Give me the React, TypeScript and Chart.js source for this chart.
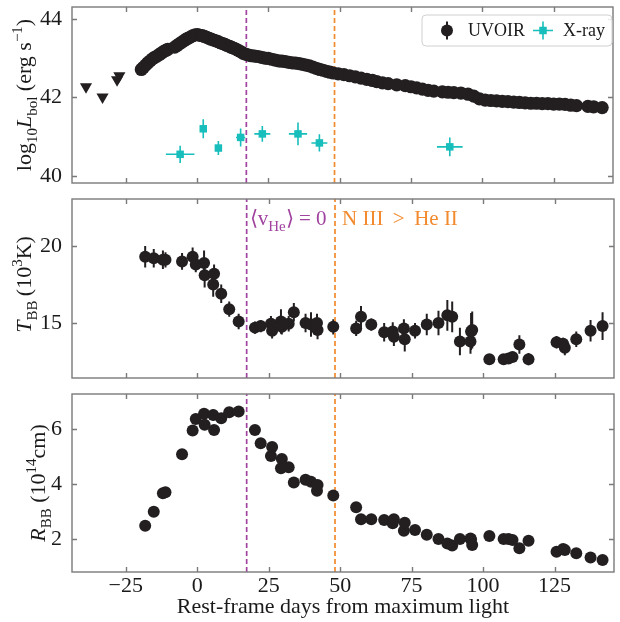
import React, { useEffect, useRef } from 'react';
import { Chart, registerables } from 'chart.js';

Chart.register(...registerables);

// ---------------- data ----------------
const xTicks = [-25, 0, 25, 50, 75, 100, 125];
const xMin = -43.8;
const xMax = 145.8;

const lumTicks = [40, 42, 44];
const tempTicks = [15, 20];
const radiusTicks = [2, 4, 6];

const uvoirDays = [
  -19.5, -18.8, -18.0, -17.2, -16.4, -15.6, -14.8, -14.0, -13.2, -12.4,
  -11.6, -10.8, -10.2, -7.8, -7.0, -6.2, -5.4, -4.6, -3.8, -3.0,
  -2.2, -1.4, -0.6, 0.2, 1.0, 1.8, 2.6, 3.4, 4.2, 5.0,
  5.8, 6.6, 7.4, 8.2, 9.0, 9.8, 10.6, 11.4, 12.2, 13.0,
  13.8, 14.6, 15.4, 16.2, 17.0, 17.8, 19.0, 20.2, 21.4, 22.6,
  23.8, 25.0, 26.2, 27.4, 28.6, 29.8, 31.0, 32.2, 33.4, 34.6,
  35.8, 37.0, 38.2, 39.4, 40.6, 41.8, 43.0, 44.2, 45.4, 46.6,
  47.8, 49.5, 51.5, 53.5, 55.5, 57.5, 59.5, 61.5, 63.0, 65.0,
  67.0, 70.0, 73.0, 75.0, 77.0, 79.0, 81.0, 83.0, 86.0, 88.0,
  90.0, 92.5, 95.0, 97.0, 99.0, 101.0, 103.0, 105.0, 107.0, 109.0,
  111.0, 113.0, 115.0, 117.0, 119.0, 121.0, 123.0, 125.0, 127.0, 129.0,
  131.0, 133.0, 137.0, 139.0, 142.0,
];
const uvoirLogL = [
  42.71, 42.76, 42.82, 42.88, 42.93, 42.98, 43.02, 43.05, 43.09, 43.13,
  43.17, 43.2, 43.22, 43.28, 43.32, 43.36, 43.4, 43.44, 43.48, 43.51,
  43.54, 43.57, 43.59, 43.6, 43.58, 43.57, 43.55, 43.53, 43.5, 43.48,
  43.46, 43.44, 43.42, 43.39, 43.37, 43.35, 43.32, 43.3, 43.27, 43.25,
  43.22, 43.19, 43.16, 43.12, 43.1, 43.08, 43.06, 43.05, 43.04, 43.02,
  43.0, 42.99, 42.97, 42.95, 42.93, 42.92, 42.91, 42.89, 42.88, 42.87,
  42.86, 42.84, 42.82, 42.8, 42.77, 42.74, 42.71, 42.69, 42.66, 42.64,
  42.62, 42.6, 42.58, 42.55, 42.52, 42.49, 42.46, 42.43, 42.4, 42.37,
  42.35, 42.32, 42.3, 42.27, 42.24, 42.21, 42.18, 42.16, 42.14, 42.13,
  42.12, 42.11, 42.08, 42.03, 41.96, 41.93, 41.92, 41.91, 41.9, 41.89,
  41.88, 41.87, 41.86, 41.85, 41.85, 41.84, 41.84, 41.83, 41.83, 41.82,
  41.8, 41.79, 41.77, 41.76, 41.74,
];

const limitDays = [-38.9, -33.1, -28.0, -27.2];
const limitLogL = [42.27, 42.01, 42.45, 42.55];

const xrayDays = [-5.9, 2.2, 7.5, 15.3, 22.9, 35.4, 42.9, 88.6];
const xrayLogL = [40.55, 41.2, 40.71, 40.98, 41.07, 41.07, 40.84, 40.74];
const xrayDayErr = [5.0, 0.6, 0.6, 1.6, 2.8, 3.2, 2.8, 4.5];
const xrayLogLErr = [0.22, 0.24, 0.18, 0.23, 0.2, 0.29, 0.22, 0.24];

const fitDays = [
  -18.2, -15.2, -12.0, -11.1, -5.3, -1.6, -0.5, 2.4, 2.6, 5.6,
  5.9, 8.4, 11.2, 14.5, 20.2, 22.2, 25.8, 26.2, 29.3, 29.6,
  32.0, 33.8, 37.9, 39.8, 41.9, 42.1, 47.6, 55.6, 57.3, 60.9,
  65.4, 68.4, 68.8, 72.3, 72.6, 76.2, 80.3, 84.4, 87.5, 89.2,
  91.9, 95.6, 95.8, 96.2, 102.2, 107.2, 108.9, 110.3, 112.7, 115.9,
  125.7, 128.0, 128.6, 132.6, 137.6, 141.8,
];
const tempValues = [
  19.3, 19.2, 19.1, 19.1, 19.0, 19.3, 18.8, 18.9, 18.1, 17.5,
  18.2, 16.9, 15.9, 15.1, 14.7, 14.8, 14.95, 14.5, 15.1, 14.75,
  14.95, 15.7, 15.0, 14.9, 15.0, 14.55, 14.75, 14.65, 15.4, 14.9,
  14.4, 14.45, 14.1, 14.65, 13.95, 14.5, 14.9, 15.0, 15.5, 15.4,
  13.8, 13.8, 14.45, 14.55, 12.65, 12.65, 12.7, 12.8, 13.6, 12.65,
  13.75, 13.65, 13.4, 13.95, 14.5, 14.8,
];
const tempErr = [
  0.7, 0.6, 0.6, 0.5, 0.55, 0.6, 0.5, 0.8, 0.8, 0.8,
  0.6, 0.6, 0.5, 0.5, 0.4, 0.4, 0.5, 0.5, 0.8, 0.5,
  0.5, 0.6, 0.6, 0.8, 0.6, 0.6, 0.5, 0.5, 0.7, 0.4,
  0.6, 0.6, 0.6, 0.6, 0.8, 0.5, 0.7, 0.8, 1.0, 1.0,
  0.9, 0.8, 1.2, 1.2, 0.3, 0.3, 0.3, 0.3, 0.6, 0.4,
  0.4, 0.4, 0.5, 0.5, 0.7, 0.9,
];
const radiusValues = [
  2.48, 2.99, 3.66, 3.7, 5.08, 5.94, 6.36, 6.55, 6.15, 6.51,
  5.96, 6.39, 6.61, 6.63, 5.96, 5.48, 5.02, 5.34, 4.57, 4.91,
  4.61, 4.05, 4.15, 4.08, 3.75, 3.96, 3.58, 3.15, 2.72, 2.72,
  2.69, 2.57, 2.72, 2.3, 2.59, 2.33, 2.15, 2.0, 1.84, 1.76,
  2.0, 2.02, 1.98, 1.78, 2.11, 2.0, 2.0, 1.96, 1.66, 1.94,
  1.54, 1.64, 1.6, 1.48, 1.33, 1.24,
];
const radiusErr = [
  0.08, 0.1, 0.1, 0.1, 0.12, 0.15, 0.18, 0.2, 0.18, 0.2,
  0.15, 0.18, 0.15, 0.15, 0.12, 0.1, 0.12, 0.12, 0.12, 0.12,
  0.1, 0.1, 0.1, 0.1, 0.08, 0.08, 0.08, 0.06, 0.06, 0.06,
  0.06, 0.06, 0.06, 0.06, 0.06, 0.06, 0.06, 0.06, 0.06, 0.06,
  0.06, 0.06, 0.06, 0.06, 0.06, 0.06, 0.06, 0.06, 0.06, 0.06,
  0.06, 0.06, 0.06, 0.06, 0.06, 0.06,
];

const heVelocityZeroDay = 17.3;
const nIIIOverHeIIDay = 48.2;

// ---------------- style ----------------
const FONT = "'Liberation Serif', 'Times New Roman', serif";
const INK = '#231f20';
const TEXT = '#1a1a1a';
const FRAME = '#7a7a7a';
const XRAY = '#17bebb';
const PURPLE = '#a044a0';
const ORANGE = '#f28a2e';

type Seg = { t: string; italic?: boolean; sub?: boolean; sup?: boolean };

function drawRich(
  ctx: CanvasRenderingContext2D,
  segs: Seg[],
  x: number,
  y: number,
  size: number,
  color: string,
  rotate: boolean,
  align: 'center' | 'left'
) {
  ctx.save();
  ctx.translate(x, y);
  if (rotate) ctx.rotate(-Math.PI / 2);
  const fontFor = (s: Seg) =>
    `${s.italic ? 'italic ' : ''}${s.sub || s.sup ? Math.round(size * 0.7) : size}px ${FONT}`;
  let w = 0;
  for (const s of segs) {
    ctx.font = fontFor(s);
    w += ctx.measureText(s.t).width;
  }
  let cx = align === 'center' ? -w / 2 : 0;
  ctx.fillStyle = color;
  ctx.textBaseline = 'alphabetic';
  ctx.textAlign = 'left';
  const base = size * 0.33;
  for (const s of segs) {
    ctx.font = fontFor(s);
    const dy = s.sub ? size * 0.28 : s.sup ? -size * 0.42 : 0;
    ctx.fillText(s.t, cx, base + dy);
    cx += ctx.measureText(s.t).width;
  }
  ctx.restore();
}

const errorBarPlugin = {
  id: 'errbars',
  beforeDatasetsDraw(chart: any) {
    const { ctx, chartArea: a } = chart;
    const xs = chart.scales.x;
    const ys = chart.scales.y;
    ctx.save();
    ctx.beginPath();
    ctx.rect(a.left, a.top, a.right - a.left, a.bottom - a.top);
    ctx.clip();
    chart.data.datasets.forEach((ds: any) => {
      const e = ds.errorBars;
      if (!e) return;
      ctx.strokeStyle = e.color;
      ctx.lineWidth = e.width;
      ctx.beginPath();
      ds.data.forEach((p: any, j: number) => {
        const px = xs.getPixelForValue(p.x);
        const py = ys.getPixelForValue(p.y);
        if (e.y) {
          ctx.moveTo(px, ys.getPixelForValue(p.y - e.y[j]));
          ctx.lineTo(px, ys.getPixelForValue(p.y + e.y[j]));
        }
        if (e.x) {
          ctx.moveTo(xs.getPixelForValue(p.x - e.x[j]), py);
          ctx.lineTo(xs.getPixelForValue(p.x + e.x[j]), py);
        }
      });
      ctx.stroke();
    });
    ctx.restore();
  },
};

const framePlugin = {
  id: 'frame',
  afterDraw(chart: any, _args: any, opts: any) {
    const { ctx, chartArea: a } = chart;
    const xs = chart.scales.x;
    const ys = chart.scales.y;
    ctx.save();
    ctx.strokeStyle = FRAME;
    ctx.lineWidth = 1.4;
    ctx.strokeRect(a.left, a.top, a.right - a.left, a.bottom - a.top);
    const tl = 5;
    ctx.beginPath();
    for (const v of xTicks) {
      const px = Math.round(xs.getPixelForValue(v)) + 0.5;
      ctx.moveTo(px, a.bottom);
      ctx.lineTo(px, a.bottom - tl);
      ctx.moveTo(px, a.top);
      ctx.lineTo(px, a.top + tl);
    }
    for (const v of opts.yTicks) {
      const py = Math.round(ys.getPixelForValue(v)) + 0.5;
      ctx.moveTo(a.left, py);
      ctx.lineTo(a.left + tl, py);
      ctx.moveTo(a.right, py);
      ctx.lineTo(a.right - tl, py);
    }
    ctx.stroke();
    ctx.restore();
    // y title
    drawRich(ctx, opts.title, opts.titleX, (a.top + a.bottom) / 2 + (opts.titleDy || 0), 22, TEXT, true, 'center');
    // annotations
    if (opts.notes) {
      for (const n of opts.notes) {
        drawRich(ctx, n.segs, xs.getPixelForValue(n.x) + n.dx, a.top + n.dy, n.size, n.color, false, 'left');
      }
    }
    // legend
    if (opts.legend) {
      const L = opts.legend;
      ctx.save();
      const bx = L.x, by = L.y, bw = L.w, bh = L.h, r = 4;
      ctx.beginPath();
      ctx.moveTo(bx + r, by);
      ctx.arcTo(bx + bw, by, bx + bw, by + bh, r);
      ctx.arcTo(bx + bw, by + bh, bx, by + bh, r);
      ctx.arcTo(bx, by + bh, bx, by, r);
      ctx.arcTo(bx, by, bx + bw, by, r);
      ctx.closePath();
      ctx.fillStyle = 'rgba(255,255,255,0.85)';
      ctx.fill();
      ctx.strokeStyle = '#d0d0d0';
      ctx.lineWidth = 1;
      ctx.stroke();
      const cy = by + bh / 2;
      // UVOIR marker
      ctx.strokeStyle = INK;
      ctx.lineWidth = 2;
      ctx.beginPath();
      ctx.moveTo(bx + 25, cy - 9);
      ctx.lineTo(bx + 25, cy + 9);
      ctx.stroke();
      ctx.fillStyle = INK;
      ctx.beginPath();
      ctx.arc(bx + 25, cy, 6, 0, Math.PI * 2);
      ctx.fill();
      ctx.font = `18px ${FONT}`;
      ctx.fillStyle = TEXT;
      ctx.textBaseline = 'middle';
      ctx.textAlign = 'left';
      ctx.fillText('UVOIR', bx + 46, cy + 1);
      // X-ray marker
      const mx = bx + 121;
      ctx.strokeStyle = XRAY;
      ctx.lineWidth = 1.6;
      ctx.beginPath();
      ctx.moveTo(mx - 10, cy);
      ctx.lineTo(mx + 10, cy);
      ctx.moveTo(mx, cy - 9);
      ctx.lineTo(mx, cy + 9);
      ctx.stroke();
      ctx.fillStyle = XRAY;
      ctx.fillRect(mx - 3.75, cy - 3.75, 7.5, 7.5);
      ctx.fillStyle = TEXT;
      ctx.fillText('X-ray', bx + 141, cy + 1);
      ctx.restore();
    }
  },
};

function vline(day: number, color: string, yMin: number, yMax: number) {
  return {
    type: 'line',
    data: [
      { x: day, y: yMin },
      { x: day, y: yMax },
    ],
    showLine: true,
    borderColor: color,
    borderWidth: 1.7,
    borderDash: [5, 3],
    pointRadius: 0,
    order: 10,
  };
}

function pts(xs: number[], ys: number[]) {
  return xs.map((x, i) => ({ x, y: ys[i] }));
}

function baseOptions(
  yMin: number,
  yMax: number,
  yTickVals: number[],
  showX: boolean,
  padding: any,
  frameOpts: any
) {
  return {
    responsive: false,
    animation: false,
    events: [],
    layout: { padding },
    plugins: {
      legend: { display: false },
      tooltip: { enabled: false },
      frame: frameOpts,
    },
    scales: {
      x: {
        type: 'linear',
        min: xMin,
        max: xMax,
        display: showX,
        afterBuildTicks: (s: any) => {
          s.ticks = xTicks.map((v) => ({ value: v }));
        },
        afterFit: (s: any) => {
          if (showX) s.height = 50;
          s.paddingLeft = 0;
          s.paddingRight = 0;
        },
        grid: { display: false, drawTicks: false },
        border: { display: false },
        ticks: {
          padding: 1,
          autoSkip: false,
          maxRotation: 0,
          font: { family: FONT, size: 22 },
          color: TEXT,
          callback: (v: number) => (v < 0 ? '\u2212' + Math.abs(v) : String(v)),
        },
        title: {
          display: showX,
          text: 'Rest-frame days from maximum light',
          font: { family: FONT, size: 22 },
          color: TEXT,
          padding: { top: 0, bottom: 2 },
        },
      },
      y: {
        type: 'linear',
        min: yMin,
        max: yMax,
        afterBuildTicks: (s: any) => {
          s.ticks = yTickVals.map((v) => ({ value: v }));
        },
        afterFit: (s: any) => {
          s.width = 72;
          s.paddingTop = 0;
          s.paddingBottom = 0;
        },
        grid: { display: false, drawTicks: false },
        border: { display: false },
        ticks: {
          padding: 10,
          font: { family: FONT, size: 22 },
          color: TEXT,
          callback: (v: number) => String(v),
        },
      },
    },
  };
}

export default function App() {
  const r1 = useRef<HTMLCanvasElement>(null);
  const r2 = useRef<HTMLCanvasElement>(null);
  const r3 = useRef<HTMLCanvasElement>(null);

  useEffect(() => {
    const lumMin = 39.82, lumMax = 44.3;
    const tMin = 11.43, tMax = 23.05;
    const rMin = 0.8, rMax = 7.27;

    const c1 = new Chart(r1.current as HTMLCanvasElement, {
      type: 'scatter',
      data: {
        datasets: [
          {
            data: pts(uvoirDays, uvoirLogL),
            backgroundColor: INK,
            borderWidth: 0,
            pointRadius: 6.6,
            order: 1,
          },
          {
            data: pts(limitDays, limitLogL),
            backgroundColor: INK,
            borderWidth: 0,
            pointStyle: 'triangle',
            rotation: 180,
            pointRadius: 7,
            order: 1,
          },
          {
            data: pts(xrayDays, xrayLogL),
            backgroundColor: XRAY,
            borderWidth: 0,
            pointStyle: 'rect',
            pointRadius: 5.3,
            order: 2,
            errorBars: { x: xrayDayErr, y: xrayLogLErr, color: XRAY, width: 1.6 },
          },
          vline(heVelocityZeroDay, PURPLE, lumMin, lumMax),
          vline(nIIIOverHeIIDay, ORANGE, lumMin, lumMax),
        ] as any,
      },
      options: baseOptions(lumMin, lumMax, lumTicks, false, { top: 5, bottom: 7, left: 0, right: 1 }, {
        yTicks: lumTicks,
        titleX: 24,
        title: [
          { t: 'log' },
          { t: '10', sub: true },
          { t: 'L', italic: true },
          { t: 'bol', sub: true },
          { t: ' (erg s' },
          { t: '\u22121', sup: true },
          { t: ')' },
        ],
        legend: { x: 422, y: 15, w: 190, h: 31 },
      }) as any,
      plugins: [errorBarPlugin, framePlugin],
    });

    const c2 = new Chart(r2.current as HTMLCanvasElement, {
      type: 'scatter',
      data: {
        datasets: [
          {
            data: pts(fitDays, tempValues),
            backgroundColor: INK,
            borderWidth: 0,
            pointRadius: 6,
            order: 1,
            errorBars: { y: tempErr, color: INK, width: 2 },
          },
          vline(heVelocityZeroDay, PURPLE, tMin, tMax),
          vline(nIIIOverHeIIDay, ORANGE, tMin, tMax),
        ] as any,
      },
      options: baseOptions(tMin, tMax, tempTicks, false, { top: 9, bottom: 7, left: 0, right: 1 }, {
        yTicks: tempTicks,
        titleX: 24,
        titleDy: -4,
        title: [
          { t: 'T', italic: true },
          { t: 'BB', sub: true },
          { t: '\u2009(10' },
          { t: '3', sup: true },
          { t: 'K)' },
        ],
        notes: [
          {
            x: heVelocityZeroDay,
            dx: 3,
            dy: 19,
            size: 21,
            color: PURPLE,
            segs: [{ t: '\u27E8v' }, { t: 'He', sub: true }, { t: '\u27E9 = 0' }],
          },
          {
            x: nIIIOverHeIIDay,
            dx: 7,
            dy: 19,
            size: 21,
            color: ORANGE,
            segs: [{ t: 'N III \u2009>\u2009 He II' }],
          },
        ],
      }) as any,
      plugins: [errorBarPlugin, framePlugin],
    });

    const c3 = new Chart(r3.current as HTMLCanvasElement, {
      type: 'scatter',
      data: {
        datasets: [
          {
            data: pts(fitDays, radiusValues),
            backgroundColor: INK,
            borderWidth: 0,
            pointRadius: 6,
            order: 1,
            errorBars: { y: radiusErr, color: INK, width: 2 },
          },
          vline(heVelocityZeroDay, PURPLE, rMin, rMax),
          vline(nIIIOverHeIIDay, ORANGE, rMin, rMax),
        ] as any,
      },
      options: baseOptions(rMin, rMax, radiusTicks, true, { top: 8, bottom: 0, left: 0, right: 1 }, {
        yTicks: radiusTicks,
        titleX: 38,
        title: [
          { t: 'R', italic: true },
          { t: 'BB', sub: true },
          { t: ' (10' },
          { t: '14', sup: true },
          { t: 'cm)' },
        ],
      }) as any,
      plugins: [errorBarPlugin, framePlugin],
    });

    return () => {
      c1.destroy();
      c2.destroy();
      c3.destroy();
    };
  }, []);

  return (
    <div style={{ position: 'absolute', left: 0, top: 0, width: 620, height: 622, background: '#fff' }}>
      <canvas ref={r1} width={620} height={190} style={{ position: 'absolute', left: 0, top: 0 }} />
      <canvas ref={r2} width={620} height={195} style={{ position: 'absolute', left: 0, top: 190 }} />
      <canvas ref={r3} width={620} height={236} style={{ position: 'absolute', left: 0, top: 386 }} />
    </div>
  );
}
